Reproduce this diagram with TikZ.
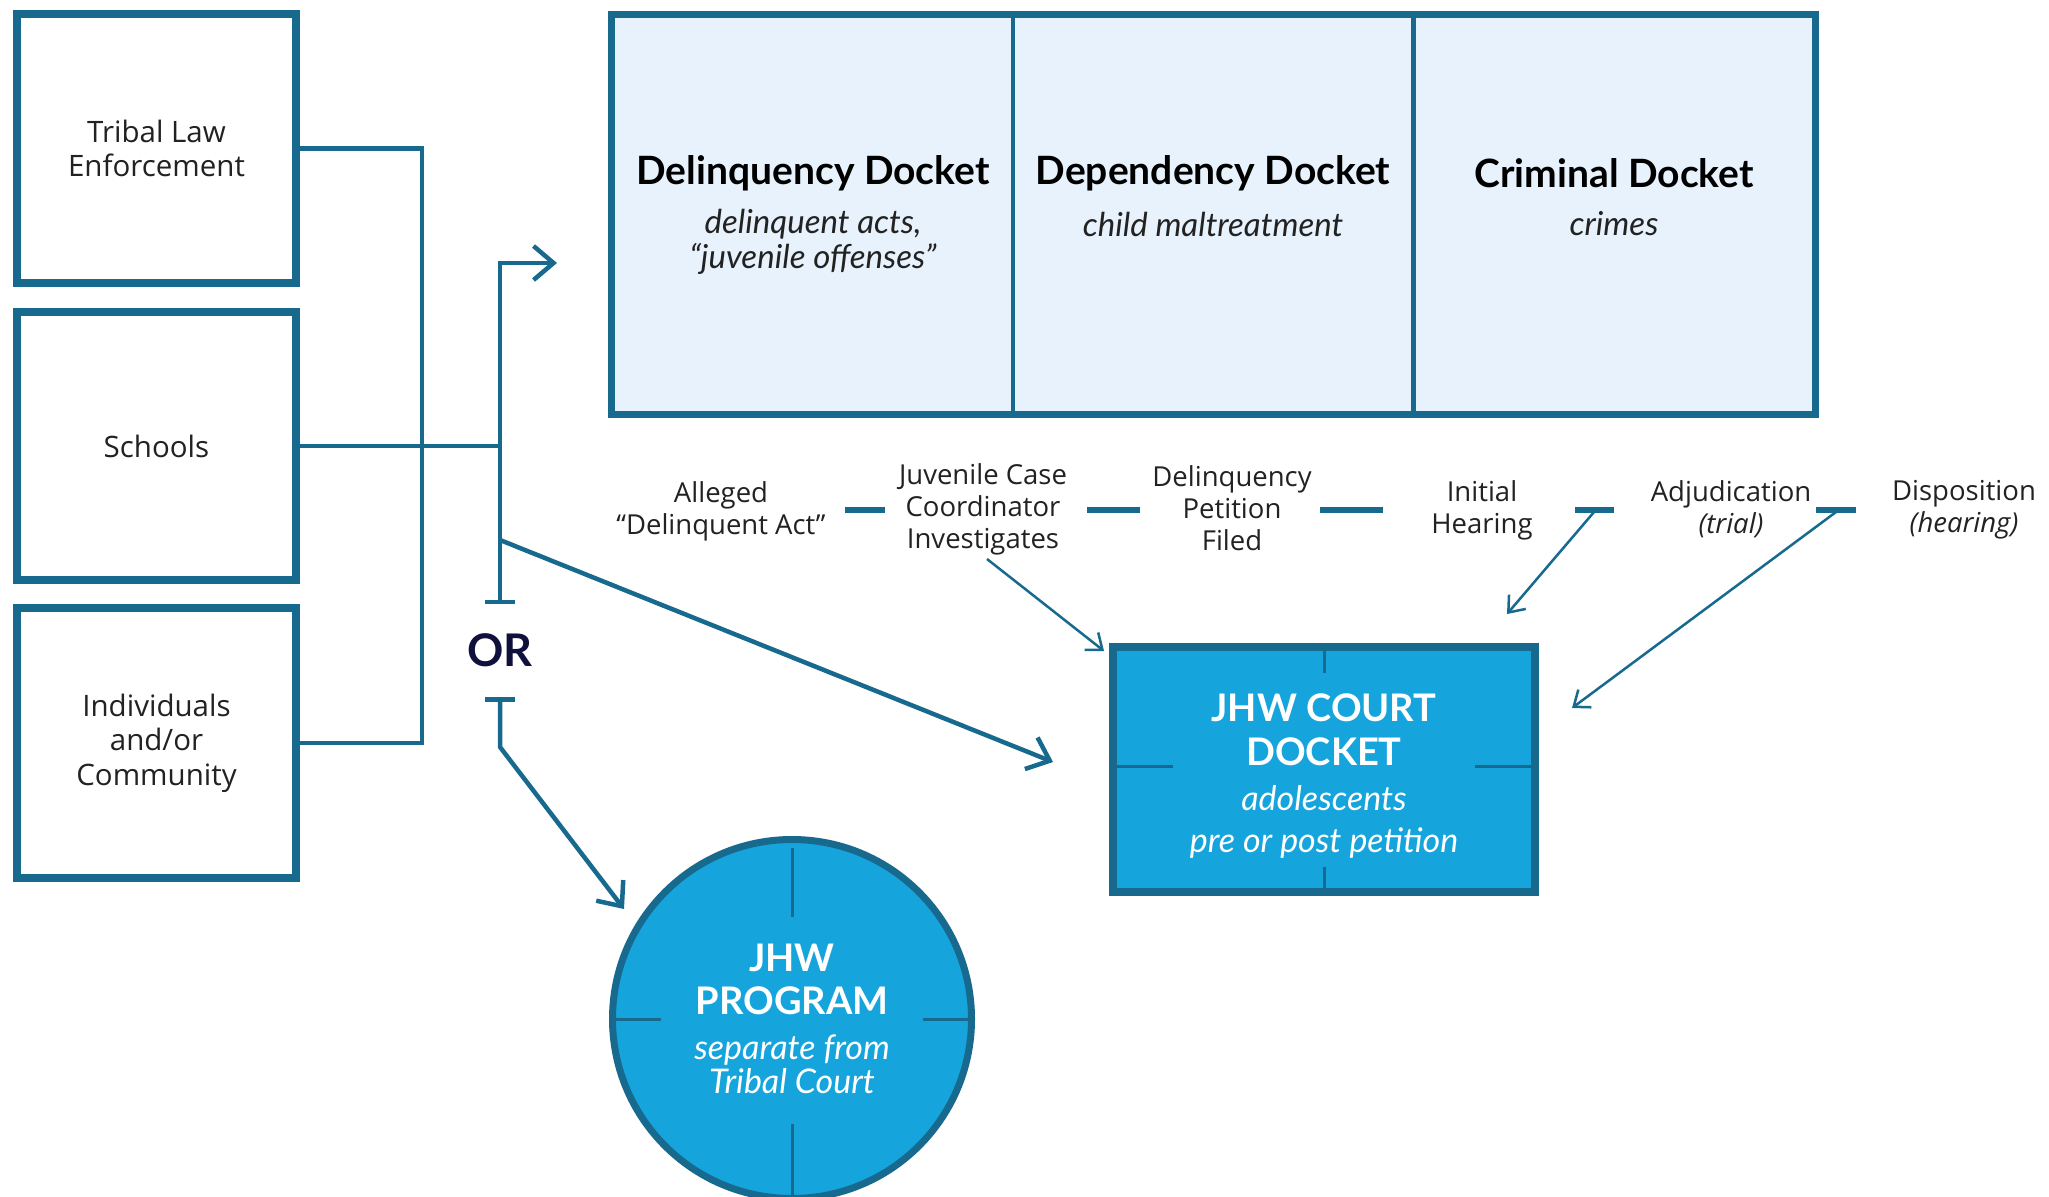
\documentclass[tikz,border=0pt]{standalone}
\usepackage{fontspec}
\setmainfont{Open Sans}
\newfontfamily\lato{Lato}
\usetikzlibrary{arrows.meta}
\definecolor{jdark}{HTML}{176A8E}
\definecolor{jfill}{HTML}{16A4DC}
\definecolor{jlight}{HTML}{E8F2FC}
\definecolor{jnavy}{HTML}{10103C}
\definecolor{jtext}{HTML}{222222}
\tikzset{
  srcbox/.style={draw=jdark, line width=8pt, minimum width=279pt, minimum height=269pt, align=center, inner sep=0pt, text=jtext, font=\fontsize{29.5}{34.5}\selectfont},
  cell/.style={draw=jdark, fill=jlight, line width=4.5pt, minimum width=400pt, minimum height=398pt, inner sep=0pt},
  dtitle/.style={font=\lato\bfseries\fontsize{39}{44}\selectfont, text=black, inner sep=0pt},
  dsub/.style={font=\lato\itshape\fontsize{33}{35}\selectfont, text=jtext, align=center, inner sep=0pt},
  proc/.style={font=\fontsize{27.5}{32}\selectfont, text=jtext, align=center, inner sep=0pt},
  conn/.style={draw=jdark, line width=4.5pt},
  thin/.style={draw=jdark, line width=2.5pt},
  dashseg/.style={draw=jdark, line width=6pt},
  tick/.style={draw=jdark, line width=3pt},
  bigtip/.style={-{Straight Barb[length=20pt,width=34pt,line width=4.5pt]}},
  smalltip/.style={-{Straight Barb[length=14pt,width=22pt,line width=2.5pt]}},
  wtitle/.style={font=\lato\bfseries\fontsize{38}{44}\selectfont, text=white, align=center, inner sep=0pt},
  wsub/.style={font=\lato\itshape\fontsize{34}{34}\selectfont, text=white, align=center, inner sep=0pt},
}
\begin{document}
\begin{tikzpicture}[x=1pt,y=-1pt]
\useasboundingbox (0,0) rectangle (2049,1196);
\clip (0,0) rectangle (2049,1196);
\fill[white] (0,0) rectangle (2049,1196);

% source boxes
\node[srcbox] (tle) at (156.5,148.5) {Tribal Law\\Enforcement};
\node[srcbox, minimum height=268pt] (sch) at (156.5,446) {Schools};
\node[srcbox, minimum height=270pt] (ind) at (156.5,743) {Individuals\\and/or\\Community};

% docket cells
\node[cell] (delq) at (813,214.5) {};
\node[cell] (depd) at (1213,214.5) {};
\node[cell] (crim) at (1614,214.5) {};
\draw[jdark, line width=5pt] (delq.north west) rectangle (crim.south east);
\node[dtitle] (delqT) at (813,173) {Delinquency Docket};
\node[dtitle] (depdT) at (1213,173) {Dependency Docket};
\node[dtitle] (crimT) at (1614,173) {Criminal Docket};
\node[dsub] (delqS) at (813,242) {delinquent acts,\\“juvenile offenses”};
\node[dsub] (depdS) at (1213,224) {child maltreatment};
\node[dsub] (crimS) at (1614,224) {crimes};

% bus lines
\coordinate (busT) at (422,148.5);
\draw[conn] (tle.east) -- (busT) |- (ind.east);
\coordinate (split) at (500,446);
\draw[conn] (sch.east) -- (split);
\coordinate (orTop) at (500,604);
\coordinate (dockIn) at (557,263);
\draw[conn, {Bar[width=30pt,line width=4.5pt]}-{Straight Barb[length=20pt,width=34pt,line width=4.5pt]}] (orTop) |- (dockIn);
\node[font=\lato\bfseries\fontsize{45}{45}\selectfont, text=jnavy, inner sep=0pt] (or) at (500,650) {OR};
\coordinate (orBot) at (500,697);
\coordinate (bend) at (500,747);
\coordinate (progIn) at (624,909);
\draw[conn, {Bar[width=30pt,line width=4.5pt]}-{Straight Barb[length=20pt,width=34pt,line width=4.5pt]}] (orBot) -- (bend) -- (progIn);
\coordinate (diagS) at (500,540);
\coordinate (courtIn) at (1053,762);
\draw[conn, bigtip] (diagS) -- (courtIn);

% process row
\node[proc] (p1) at (721,511) {Alleged\\“Delinquent Act”};
\node[proc] (p2) at (983,509) {Juvenile Case\\Coordinator\\Investigates};
\node[proc] (p3) at (1232,508) {Delinquency\\Petition\\Filed};
\node[proc] (p4) at (1482,510) {Initial\\Hearing};
\node[proc] (p5) at (1731,509) {Adjudication\\\textit{(trial)}};
\node[proc] (p6) at (1964,510) {Disposition\\\textit{(hearing)}};
\coordinate (d1a) at (845,510); \coordinate (d1b) at (885,510);
\coordinate (d2a) at (1087,510); \coordinate (d2b) at (1140,510);
\coordinate (d3a) at (1320,510); \coordinate (d3b) at (1383,510);
\coordinate (d4a) at (1575,510); \coordinate (d4b) at (1614,510);
\coordinate (d5a) at (1816,510); \coordinate (d5b) at (1856,510);
\draw[dashseg] (d1a) -- (d1b);
\draw[dashseg] (d2a) -- (d2b);
\draw[dashseg] (d3a) -- (d3b);
\draw[dashseg] (d4a) -- (d4b);
\draw[dashseg] (d5a) -- (d5b);

% court docket
\node[draw=jdark, fill=jfill, line width=8pt, minimum width=422pt, minimum height=245pt, inner sep=0pt] (court) at (1324,769.5) {};
\draw[tick] (1324,651) -- (1324,673);
\draw[tick] (1324,867) -- (1324,889);
\draw[tick] (1117,766) -- (1173,766);
\draw[tick] (1475,766) -- (1531,766);
\node[wtitle] (ct1) at (1324,730) {JHW COURT\\DOCKET};
\node[wsub] (ct2) at (1324,798) {adolescents};
\node[wsub] (ct3) at (1324,843) {pre or post petition};

% thin arrows
\coordinate (a1s) at (987,559); \coordinate (a1e) at (1104,651);
\coordinate (a2s) at (1594,512); \coordinate (a2e) at (1507,614);
\coordinate (a3s) at (1836,512); \coordinate (a3e) at (1572,708);
\draw[thin, smalltip] (a1s) -- (a1e);
\draw[thin, smalltip] (a2s) -- (a2e);
\draw[thin, smalltip] (a3s) -- (a3e);

% program circle
\node[circle, draw=jdark, fill=jfill, line width=7pt, minimum size=359pt, inner sep=0pt] (prog) at (792,1019) {};
\draw[tick] (792,848) -- (792,917);
\draw[tick] (792,1124) -- (792,1196);
\draw[tick] (612,1019) -- (661,1019);
\draw[tick] (923,1019) -- (970,1019);
\node[wtitle, font=\lato\bfseries\fontsize{38}{43}\selectfont] (pt1) at (792,979) {JHW\\PROGRAM};
\node[wsub] (pt2) at (792,1064) {separate from\\Tribal Court};
\end{tikzpicture}
\end{document}
